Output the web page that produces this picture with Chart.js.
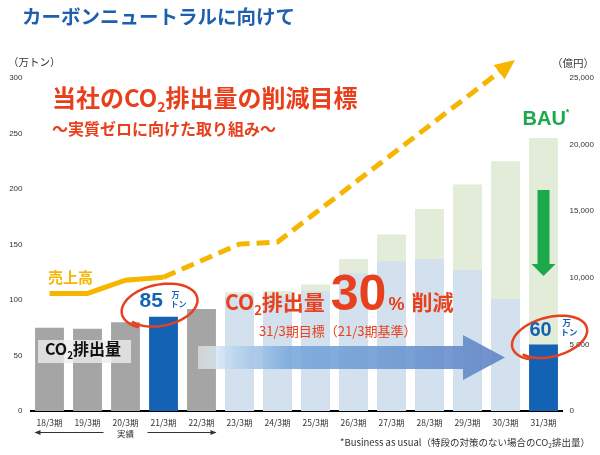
<!DOCTYPE html>
<html>
<head>
<meta charset="utf-8">
<script src="https://cdn.jsdelivr.net/npm/chart.js@4/dist/chart.umd.min.js"></script>
<style>
  html, body { margin: 0; padding: 0; background: #fff; }
  canvas { display: block; }
</style>
</head>
<body>
<canvas id="co2Chart" width="600" height="455"></canvas>
<script>
// categories + series
var categories = ['18/3期','19/3期','20/3期','21/3期','22/3期','23/3期','24/3期',
                  '25/3期','26/3期','27/3期','28/3期','29/3期','30/3期','31/3期'];
var actualCO2    = [75, 74, 80, null, 92, null, null, null, null, null, null, null, null, null];
var keyCO2       = [null, null, null, 85, null, null, null, null, null, null, null, null, null, 60];
var bauCO2       = [null, null, null, null, null, 107, 108, 114, 137, 159, 182, 204, 225, 246];
var planCO2      = [null, null, null, null, null, 104, 104, 108, 124, 135, 137, 127, 101, null];
var sales        = [8830, 8830, 9820, 10040, null, 12530, 12690, null, null, null, null, null, 25800, null];
var co2Ticks     = [0, 50, 100, 150, 200, 250, 300];
var salesTicks   = [0, 5000, 10000, 15000, 20000, 25000];

var JP = "'Noto Sans CJK JP', sans-serif";
var EN = "'Liberation Sans', Arial, sans-serif";
var RED = '#E8401C';
var BLUE = '#1462B4';
var YELLOW = '#F6B600';
var GREEN = '#1BA94C';

function runs(ctx, x, y, parts, color) {
    var cx = x;
    parts.forEach(function (p) {
        ctx.font = p.f;
        ctx.fillStyle = p.c || color;
        ctx.fillText(p.t, cx, y + (p.dy || 0));
        cx += ctx.measureText(p.t).width + (p.gap || 0);
    });
}

function scribble(ctx, cx, cy, rx, ry, rot) {
    // hand drawn ring, ends overlap a bit
    ctx.save();
    ctx.translate(cx, cy);
    ctx.rotate(rot);
    ctx.beginPath();
    var a0 = Math.PI * 0.72, steps = 80;
    for (var i = 0; i <= steps; i++) {
        var t = i / steps;
        var a = a0 + t * (Math.PI * 2 + 0.35);
        var k = 1 - 0.1 * t;
        var px = Math.cos(a) * rx * k, py = Math.sin(a) * ry * k;
        if (i === 0) ctx.moveTo(px, py); else ctx.lineTo(px, py);
    }
    ctx.strokeStyle = RED;
    ctx.lineWidth = 2.5;
    ctx.stroke();
    ctx.restore();
}

var extras = {
    id: 'extras',
    afterDatasetsDraw: function (chart) {
        var ctx = chart.ctx;
        var xs = chart.scales.x, ys = chart.scales.y;
        ctx.save();
        ctx.textBaseline = 'alphabetic';
        ctx.textAlign = 'left';

        // sales arrow head
        var meta = chart.getDatasetMeta(0);
        var pts = meta.data.filter(function (p, i) { return sales[i] !== null; });
        var a = pts[pts.length - 2], b = pts[pts.length - 1];
        var ang = Math.atan2(b.y - a.y, b.x - a.x);
        ctx.save();
        ctx.translate(b.x, b.y);
        ctx.rotate(ang);
        ctx.beginPath();
        ctx.moveTo(12, 0);
        ctx.lineTo(-8, -9);
        ctx.lineTo(-8, 9);
        ctx.closePath();
        ctx.fillStyle = YELLOW;
        ctx.fill();
        ctx.restore();

        // gradient arrow
        var g = ctx.createLinearGradient(198, 0, 505, 0);
        g.addColorStop(0, 'rgba(255,255,255,0.5)');
        g.addColorStop(0.07, 'rgba(205,225,243,0.85)');
        g.addColorStop(0.3, 'rgba(118,168,218,0.88)');
        g.addColorStop(1, 'rgba(96,132,198,0.9)');
        ctx.beginPath();
        ctx.moveTo(198, 346);
        ctx.lineTo(463, 346);
        ctx.lineTo(463, 335);
        ctx.lineTo(505, 357.5);
        ctx.lineTo(463, 380);
        ctx.lineTo(463, 369);
        ctx.lineTo(198, 369);
        ctx.closePath();
        ctx.fillStyle = g;
        ctx.fill();

        // grey label band
        ctx.fillStyle = 'rgba(236,236,236,0.8)';
        ctx.fillRect(38, 340, 93, 23);
        runs(ctx, 45, 355, [
            { t: 'CO', f: 'bold 16px ' + JP },
            { t: '2', f: 'bold 10px ' + JP, dy: 4 },
            { t: '排出量', f: 'bold 16px ' + JP }
        ], '#111');

        // green BAU arrow inside last bar
        var bx = xs.getPixelForValue(13);
        ctx.fillStyle = GREEN;
        ctx.beginPath();
        ctx.moveTo(bx - 6, 190);
        ctx.lineTo(bx + 6, 190);
        ctx.lineTo(bx + 6, 264);
        ctx.lineTo(bx + 12, 264);
        ctx.lineTo(bx, 276);
        ctx.lineTo(bx - 12, 264);
        ctx.lineTo(bx - 6, 264);
        ctx.closePath();
        ctx.fill();

        // BAU label
        runs(ctx, bx - 21, 125, [
            { t: 'BAU', f: 'bold 20px ' + EN },
            { t: '*', f: 'bold 9px ' + EN, dy: -10 }
        ], GREEN);

        // 85 / 60 callouts
        var x21 = xs.getPixelForValue(3), t21 = ys.getPixelForValue(85);
        scribble(ctx, x21 - 3, t21 - 11, 40, 22, -0.2);
        ctx.fillStyle = BLUE;
        ctx.font = 'bold 21px ' + EN;
        ctx.fillText('85', x21 - 24, t21 - 10);
        ctx.font = 'bold 8px ' + JP;
        ctx.fillText('万', x21 + 8, t21 - 19);
        ctx.fillText('トン', x21 + 7, t21 - 10);

        var t31 = ys.getPixelForValue(60);
        scribble(ctx, bx + 7, t31 - 7, 40, 21, -0.25);
        ctx.fillStyle = BLUE;
        ctx.font = 'bold 20px ' + EN;
        ctx.fillText('60', bx - 14, t31 - 8.5);
        ctx.font = 'bold 8.5px ' + JP;
        ctx.fillText('万', bx + 19, t31 - 18);
        ctx.fillText('トン', bx + 17, t31 - 9);

        // headline texts
        ctx.font = 'bold 19.5px ' + JP;
        ctx.fillStyle = '#1E5FAE';
        ctx.fillText('カーボンニュートラルに向けて', 22, 24);

        runs(ctx, 52, 107, [
            { t: '当社のCO', f: 'bold 24px ' + JP },
            { t: '2', f: 'bold 14px ' + JP, dy: 5 },
            { t: '排出量の削減目標', f: 'bold 24px ' + JP }
        ], RED);
        ctx.font = 'bold 16px ' + JP;
        ctx.fillStyle = RED;
        ctx.fillText('～実質ゼロに向けた取り組み～', 52, 135);

        runs(ctx, 225, 310, [
            { t: 'CO', f: 'bold 21px ' + JP },
            { t: '2', f: 'bold 13px ' + JP, dy: 5 },
            { t: '排出量', f: 'bold 21px ' + JP, gap: 6 },
            { t: '30', f: 'bold 50px ' + EN, gap: 2 },
            { t: '%', f: 'bold 18px ' + EN, gap: 7 },
            { t: '削減', f: 'bold 21px ' + JP }
        ], RED);
        ctx.font = '13px ' + JP;
        ctx.fillStyle = RED;
        ctx.fillText('31/3期目標（21/3期基準）', 259, 336);

        ctx.font = 'bold 15px ' + JP;
        ctx.fillStyle = YELLOW;
        ctx.fillText('売上高', 48, 283);

        // units
        ctx.font = '10.5px ' + JP;
        ctx.fillStyle = '#333';
        ctx.fillText('（万トン）', 8, 66);
        ctx.fillText('（億円）', 552, 67);

        // 実績 bracket
        var l = xs.getPixelForValue(0) - 14, r = xs.getPixelForValue(4) + 14, m = xs.getPixelForValue(2);
        ctx.strokeStyle = '#333';
        ctx.fillStyle = '#333';
        ctx.lineWidth = 1;
        ctx.beginPath();
        ctx.moveTo(l, 432.5); ctx.lineTo(m - 22, 432.5);
        ctx.moveTo(m + 22, 432.5); ctx.lineTo(r, 432.5);
        ctx.stroke();
        ctx.beginPath();
        ctx.moveTo(l - 1, 432.5); ctx.lineTo(l + 5, 430); ctx.lineTo(l + 5, 435); ctx.closePath();
        ctx.moveTo(r + 1, 432.5); ctx.lineTo(r - 5, 430); ctx.lineTo(r - 5, 435); ctx.closePath();
        ctx.fill();
        ctx.font = '8.5px ' + JP;
        ctx.textAlign = 'center';
        ctx.fillText('実績', m, 437);

        // footnote
        ctx.textAlign = 'left';
        runs(ctx, 340, 446, [
            { t: '*Business as usual（特段の対策のない場合のCO', f: '9.5px ' + JP },
            { t: '2', f: '6.5px ' + JP, dy: 2 },
            { t: '排出量）', f: '9.5px ' + JP }
        ], '#333');

        ctx.restore();
    }
};

var ctx = document.getElementById('co2Chart').getContext('2d');
var co2Chart = new Chart(ctx, {
    data: {
        labels: categories,
        datasets: [{
            type: 'line',
            data: sales,
            yAxisID: 'y2',
            borderColor: YELLOW,
            borderWidth: 5,
            pointRadius: 0,
            tension: 0,
            spanGaps: true,
            clip: false,
            order: 0,
            segment: {
                borderDash: function (c) { return c.p0DataIndex >= 3 ? [13, 7] : undefined; }
            }
        }, {
            type: 'bar',
            data: keyCO2,
            backgroundColor: BLUE,
            order: 1
        }, {
            type: 'bar',
            data: actualCO2,
            backgroundColor: '#A5A5A5',
            order: 2
        }, {
            type: 'bar',
            data: planCO2,
            backgroundColor: '#D3E0EE',
            order: 2
        }, {
            type: 'bar',
            data: bauCO2,
            backgroundColor: '#E2ECD9',
            order: 3
        }]
    },
    options: {
        responsive: false,
        animation: false,
        layout: { padding: { top: 78 } },
        datasets: {
            bar: { grouped: false, barPercentage: 0.76, categoryPercentage: 1, yAxisID: 'y' }
        },
        plugins: { legend: { display: false }, tooltip: { enabled: false } },
        scales: {
            x: {
                grid: { display: false, drawTicks: false },
                border: { display: true, color: '#000', width: 2 },
                ticks: { font: { size: 8.5, family: JP }, color: '#333', padding: 7, maxRotation: 0, autoSkip: false },
                afterFit: function (s) { s.height = 44; }
            },
            y: {
                position: 'left',
                min: 0, max: 300,
                grid: { display: false, drawTicks: false },
                border: { display: false },
                afterBuildTicks: function (s) { s.ticks = co2Ticks.map(function (v) { return { value: v }; }); },
                ticks: { font: { size: 8, family: EN }, color: '#333', padding: 8 },
                afterFit: function (s) { s.width = 30.5; }
            },
            y2: {
                position: 'right',
                min: 0, max: 25000,
                grid: { display: false, drawTicks: false },
                border: { display: false },
                afterBuildTicks: function (s) { s.ticks = salesTicks.map(function (v) { return { value: v }; }); },
                ticks: { font: { size: 8, family: EN }, color: '#333', padding: 7 },
                afterFit: function (s) { s.width = 37.5; }
            }
        }
    },
    plugins: [extras]
});
</script>
</body>
</html>
